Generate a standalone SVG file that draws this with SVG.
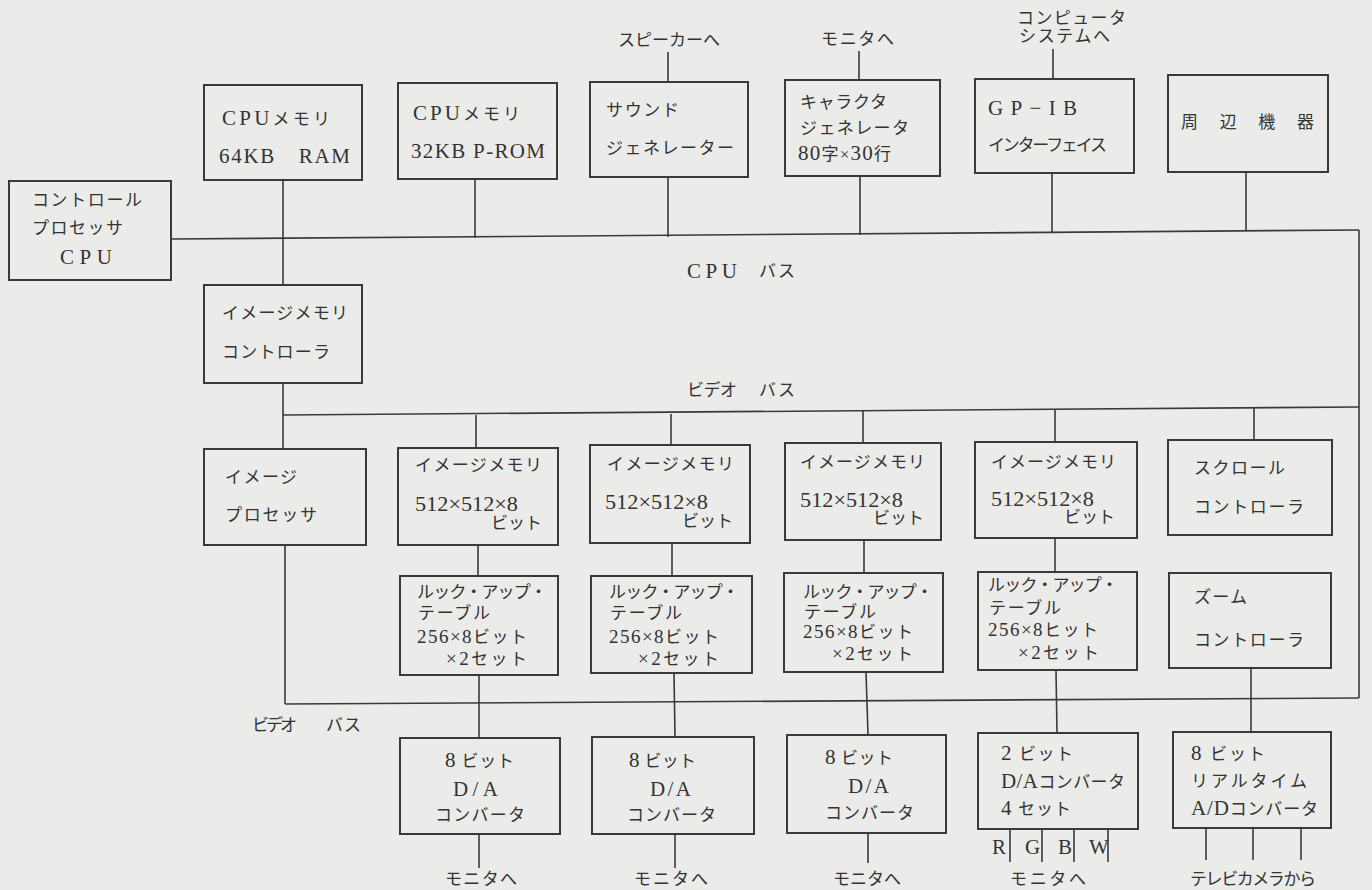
<svg xmlns="http://www.w3.org/2000/svg" width="1372" height="890" viewBox="0 0 1372 890">
<style>
.bg{fill:#ebebe9}
.box{fill:none;stroke:#3a3a3a;stroke-width:2}
.ln{fill:none;stroke:#3a3a3a;stroke-width:1.6}
text{font-family:"Liberation Serif","Noto Sans CJK JP",serif;font-size:17px;fill:#333}
.L{font-size:21px}
.N{font-size:22px}
.M{font-size:19px}
</style>
<rect class="bg" x="0" y="0" width="1372" height="890"/>
<g id="connectors">
<line class="ln" x1="668" y1="52" x2="668" y2="82"/>
<line class="ln" x1="859" y1="51" x2="859" y2="80"/>
<line class="ln" x1="1053" y1="49" x2="1053" y2="79"/>
<line class="ln" x1="283" y1="180" x2="283" y2="285"/>
<line class="ln" x1="475" y1="179" x2="475" y2="238"/>
<line class="ln" x1="668" y1="177" x2="668" y2="237"/>
<line class="ln" x1="860" y1="176" x2="860" y2="235"/>
<line class="ln" x1="1052" y1="173" x2="1052" y2="233"/>
<line class="ln" x1="1246" y1="172" x2="1246" y2="231"/>
<line class="ln" x1="171" y1="239" x2="1359" y2="230"/>
<line class="ln" x1="1359" y1="230" x2="1359" y2="698"/>
<line class="ln" x1="283" y1="383" x2="283" y2="449"/>
<line class="ln" x1="283" y1="415" x2="1359" y2="407"/>
<line class="ln" x1="476" y1="415" x2="476" y2="448"/>
<line class="ln" x1="671" y1="414" x2="671" y2="445"/>
<line class="ln" x1="863" y1="410" x2="863" y2="443"/>
<line class="ln" x1="1055" y1="409" x2="1055" y2="442"/>
<line class="ln" x1="1254" y1="408" x2="1254" y2="440"/>
<line class="ln" x1="478" y1="545" x2="478" y2="576"/>
<line class="ln" x1="672" y1="543" x2="672" y2="576"/>
<line class="ln" x1="864" y1="540" x2="864" y2="573"/>
<line class="ln" x1="1055" y1="538" x2="1055" y2="572"/>
<line class="ln" x1="285" y1="545" x2="285" y2="704"/>
<line class="ln" x1="285" y1="704" x2="1359" y2="698"/>
<line class="ln" x1="479" y1="675" x2="479" y2="738"/>
<line class="ln" x1="674" y1="673" x2="675" y2="737"/>
<line class="ln" x1="866" y1="672" x2="868" y2="735"/>
<line class="ln" x1="1056" y1="670" x2="1057" y2="733"/>
<line class="ln" x1="1251" y1="668" x2="1251" y2="732"/>
<line class="ln" x1="479" y1="834" x2="479" y2="868"/>
<line class="ln" x1="675" y1="834" x2="675" y2="868"/>
<line class="ln" x1="868" y1="833" x2="868" y2="863"/>
<line class="ln" x1="1010" y1="829" x2="1010" y2="862"/>
<line class="ln" x1="1042" y1="829" x2="1042" y2="862"/>
<line class="ln" x1="1074" y1="829" x2="1074" y2="862"/>
<line class="ln" x1="1108" y1="829" x2="1108" y2="862"/>
<line class="ln" x1="1206" y1="828" x2="1206" y2="860"/>
<line class="ln" x1="1253" y1="828" x2="1253" y2="860"/>
<line class="ln" x1="1301" y1="828" x2="1301" y2="860"/>
</g>
<g id="labels">
<text x="618" y="46" textLength="102">スピーカーへ</text>
<text x="821" y="45" textLength="73">モニタへ</text>
<text x="1017" y="24" textLength="109">コンピュータ</text>
<text x="1019" y="42" textLength="91">システムへ</text>
<text x="687" y="278" textLength="50" class="L">CPU</text>
<text x="759" y="277" textLength="36">バス</text>
<text x="687" y="396" textLength="50">ビデオ</text>
<text x="759" y="396" textLength="36">バス</text>
<text x="252" y="731" textLength="45">ビデオ</text>
<text x="326" y="731" textLength="35">バス</text>
<text x="445" y="885" textLength="72">モニタへ</text>
<text x="634" y="885" textLength="74">モニタへ</text>
<text x="833" y="885" textLength="68">モニタへ</text>
<text x="1010" y="885" textLength="76">モニタへ</text>
<text x="1190" y="885" textLength="126">テレビカメラから</text>
<text x="992" y="854" class="L">R</text>
<text x="1025" y="854" class="L">G</text>
<text x="1058" y="854" class="L">B</text>
<text x="1089" y="854" class="L">W</text>
</g>
<g id="ctrl"><rect class="box" x="9" y="181" width="162" height="99"/>
<text x="32" y="206" textLength="110">コントロール</text>
<text x="32" y="234" textLength="91">プロセッサ</text>
<text x="60" y="264" textLength="52" class="L">CPU</text></g>
<g id="ram"><rect class="box" x="204" y="85" width="158" height="95"/>
<text x="222" y="125" textLength="108"><tspan class="L">CPU</tspan>メモリ</text>
<text x="219" y="163" textLength="131" class="L">64KB　RAM</text></g>
<g id="prom"><rect class="box" x="398" y="83" width="159" height="96"/>
<text x="413" y="120" textLength="107"><tspan class="L">CPU</tspan>メモリ</text>
<text x="411" y="158" textLength="134" class="L">32KB P-ROM</text></g>
<g id="sound"><rect class="box" x="590" y="82" width="158" height="95"/>
<text x="606" y="116" textLength="73">サウンド</text>
<text x="606" y="154" textLength="128">ジェネレーター</text></g>
<g id="chargen"><rect class="box" x="785" y="80" width="155" height="96"/>
<text x="800" y="108" textLength="87">キャラクタ</text>
<text x="800" y="134" textLength="109">ジェネレータ</text>
<text x="798" y="160" textLength="93"><tspan class="L">80</tspan>字×<tspan class="L">30</tspan>行</text></g>
<g id="gpib"><rect class="box" x="975" y="79" width="159" height="94"/>
<text x="988" y="115" textLength="89" class="L">GP−IB</text>
<text x="988" y="151" textLength="119">インターフェイス</text></g>
<g id="periph"><rect class="box" x="1168" y="75" width="160" height="97"/>
<text x="1181" y="128" textLength="133">周 辺 機 器</text></g>
<g id="imc"><rect class="box" x="204" y="285" width="158" height="98"/>
<text x="222" y="319" textLength="126">イメージメモリ</text>
<text x="222" y="358" textLength="108">コントローラ</text></g>
<g id="ip"><rect class="box" x="204" y="449" width="162" height="96"/>
<text x="225" y="483" textLength="72">イメージ</text>
<text x="225" y="521" textLength="92">プロセッサ</text></g>
<g id="mem1"><rect class="box" x="398" y="448" width="160" height="97"/>
<text x="415" y="471" textLength="127">イメージメモリ</text>
<text x="415" y="511" textLength="103" lengthAdjust="spacingAndGlyphs" class="N">512×512×8</text>
<text x="491" y="529" textLength="51">ビット</text></g>
<g id="mem2"><rect class="box" x="590" y="445" width="160" height="98"/>
<text x="607" y="470" textLength="127">イメージメモリ</text>
<text x="605" y="509" textLength="103" lengthAdjust="spacingAndGlyphs" class="N">512×512×8</text>
<text x="682" y="527" textLength="51">ビット</text></g>
<g id="mem3"><rect class="box" x="785" y="443" width="156" height="97"/>
<text x="800" y="468" textLength="125">イメージメモリ</text>
<text x="800" y="507" textLength="103" lengthAdjust="spacingAndGlyphs" class="N">512×512×8</text>
<text x="873" y="524" textLength="51">ビット</text></g>
<g id="mem4"><rect class="box" x="975" y="442" width="162" height="96"/>
<text x="991" y="468" textLength="125">イメージメモリ</text>
<text x="991" y="506" textLength="103" lengthAdjust="spacingAndGlyphs" class="N">512×512×8</text>
<text x="1064" y="523" textLength="51">ビット</text></g>
<g id="scroll"><rect class="box" x="1168" y="440" width="164" height="95"/>
<text x="1194" y="474" textLength="91">スクロール</text>
<text x="1194" y="513" textLength="110">コントローラ</text></g>
<g id="lut1"><rect class="box" x="400" y="576" width="158" height="99"/>
<text x="417" y="598" textLength="130">ルック・アップ・</text>
<text x="418" y="619" textLength="72">テーブル</text>
<text x="417" y="643" textLength="110"><tspan class="M">256×8</tspan>ビット</text>
<text x="446" y="665" textLength="81"><tspan class="M">×2</tspan>セット</text></g>
<g id="lut2"><rect class="box" x="591" y="576" width="161" height="97"/>
<text x="609" y="598" textLength="130">ルック・アップ・</text>
<text x="610" y="619" textLength="72">テーブル</text>
<text x="609" y="643" textLength="110"><tspan class="M">256×8</tspan>ビット</text>
<text x="638" y="665" textLength="81"><tspan class="M">×2</tspan>セット</text></g>
<g id="lut3"><rect class="box" x="784" y="573" width="159" height="99"/>
<text x="803" y="598" textLength="130">ルック・アップ・</text>
<text x="804" y="618" textLength="72">テーブル</text>
<text x="803" y="638" textLength="110"><tspan class="M">256×8</tspan>ビット</text>
<text x="832" y="660" textLength="81"><tspan class="M">×2</tspan>セット</text></g>
<g id="lut4"><rect class="box" x="978" y="572" width="159" height="98"/>
<text x="988" y="591" textLength="130">ルック・アップ・</text>
<text x="989" y="614" textLength="72">テーブル</text>
<text x="988" y="636" textLength="110"><tspan class="M">256×8</tspan>ヒット</text>
<text x="1018" y="659" textLength="81"><tspan class="M">×2</tspan>セット</text></g>
<g id="zoomc"><rect class="box" x="1169" y="573" width="162" height="95"/>
<text x="1194" y="603" textLength="53">ズーム</text>
<text x="1194" y="646" textLength="110">コントローラ</text></g>
<g id="da1"><rect class="box" x="400" y="738" width="160" height="96"/>
<text x="445" y="767" textLength="69"><tspan class="L">8</tspan> ビット</text>
<text x="453" y="796" textLength="45" class="L">D/A</text>
<text x="435" y="821" textLength="90">コンバータ</text></g>
<g id="da2"><rect class="box" x="592" y="737" width="162" height="97"/>
<text x="629" y="767" textLength="67"><tspan class="L">8</tspan> ビット</text>
<text x="650" y="796" textLength="41" class="L">D/A</text>
<text x="627" y="821" textLength="89">コンバータ</text></g>
<g id="da3"><rect class="box" x="787" y="735" width="159" height="98"/>
<text x="825" y="764" textLength="68"><tspan class="L">8</tspan> ビット</text>
<text x="848" y="793" textLength="41" class="L">D/A</text>
<text x="825" y="819" textLength="89">コンバータ</text></g>
<g id="da4"><rect class="box" x="978" y="733" width="160" height="96"/>
<text x="1001" y="760" textLength="72"><tspan class="L">2</tspan> ビット</text>
<text x="1001" y="788" textLength="124"><tspan class="L">D/A</tspan>コンバータ</text>
<text x="1001" y="815" textLength="70"><tspan class="L">4</tspan> セット</text></g>
<g id="ad"><rect class="box" x="1173" y="732" width="158" height="96"/>
<text x="1191" y="760" textLength="74"><tspan class="L">8</tspan> ビット</text>
<text x="1191" y="787" textLength="116">リアルタイム</text>
<text x="1191" y="815" textLength="127"><tspan class="L">A/D</tspan>コンバータ</text></g>
</svg>
